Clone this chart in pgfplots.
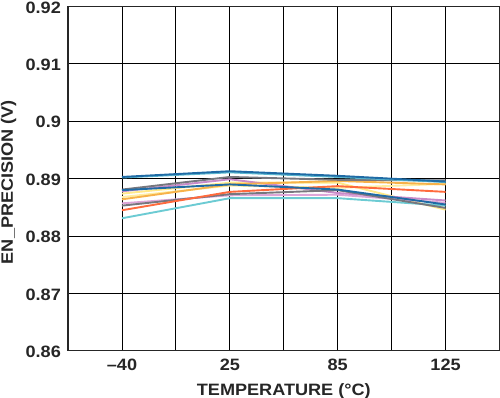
\documentclass[border=0pt]{standalone}
\usepackage{fontspec}
\setmainfont{Liberation Sans}[FakeStretch=1.1]
\usepackage{pgfplots}
\pgfplotsset{compat=1.18}
\definecolor{cdblue}{HTML}{1F6BA5}
\definecolor{cteal}{HTML}{5BB8D0}
\definecolor{cgray}{HTML}{77777E}
\definecolor{cpurple}{HTML}{C98BC9}
\definecolor{cpink}{HTML}{DDA6D8}
\definecolor{cly}{HTML}{FFE98A}
\definecolor{coy}{HTML}{F7B24A}
\definecolor{corange}{HTML}{FF6A3D}
\definecolor{ccyan}{HTML}{6CCBD3}
\begin{document}
\fontsize{16.5}{19}\selectfont\bfseries
\begin{tikzpicture}
\begin{axis}[
  scale only axis,
  width=431bp, height=344bp,
  xmin=0, xmax=8, ymin=0.86, ymax=0.92,
  xtick={1,3,5,7},
  xticklabels={\textendash40,25,85,125},
  minor xtick={0,2,4,6,8},
  ytick={0.86,0.87,0.88,0.89,0.9,0.91,0.92},
  yticklabels={0.86,0.87,0.88,0.89,0.9,0.91,0.92},
  grid=both,
  major grid style={black, line width=0.9bp},
  minor grid style={black, line width=0.9bp},
  major tick length=0pt, minor tick length=0pt,
  axis line style={black!85, line width=1.3bp},
  tick label style={font=\fontsize{16.5}{19}\selectfont\bfseries, text=black!85},
  yticklabel style={xshift=-1.5bp, yshift=-1bp},
  xticklabel style={yshift=-2.5bp},
  label style={font=\fontsize{16.5}{19}\selectfont\bfseries, text=black!85},
  xlabel={TEMPERATURE (°C)},
  ylabel={EN\_PRECISION (V)},
  xlabel style={at={(axis description cs:0.5,0)}, anchor=north, yshift=-27bp},
  ylabel style={at={(axis description cs:-0.138,0.49)}, anchor=center},
  every axis plot/.append style={line width=1.9bp, no markers},
  clip=false,
]
\addplot[cly] coordinates {(1,0.8874) (3,0.8893) (5,0.8893) (7,0.8846)};
\addplot[cly!80!white] coordinates {(1,0.8868) (3,0.8888) (5,0.8884) (7,0.8891)};
\addplot[ccyan] coordinates {(1,0.8831) (3,0.8866) (5,0.8866) (7,0.8853)};
\addplot[cpink] coordinates {(1,0.8857) (3,0.8871) (5,0.8872) (7,0.8858)};
\addplot[cpurple] coordinates {(1,0.8878) (3,0.8899) (5,0.8875) (7,0.8862)};
\addplot[cgray] coordinates {(1,0.8853) (3,0.8873) (5,0.8880) (7,0.8849)};
\addplot[coy] coordinates {(1,0.8864) (3,0.8890) (5,0.8896) (7,0.8890)};
\addplot[corange] coordinates {(1,0.8845) (3,0.8877) (5,0.8887) (7,0.8877)};
\addplot[cgray] coordinates {(1,0.8881) (3,0.8903) (5,0.8898) (7,0.8897)};
\addplot[cdblue] coordinates {(1,0.8880) (3,0.8890) (5,0.8881) (7,0.8855)};
\addplot[cteal] coordinates {(1,0.8902) (3,0.8911) (5,0.8903) (7,0.8894)};
\addplot[cdblue] coordinates {(1,0.8903) (3,0.8913) (5,0.8905) (7,0.8895)};
\end{axis}
\pgfresetboundingbox
\path (current axis.south west) ++(-68bp,-47bp) coordinate (bbA);
\path (current axis.north east) ++(0.5bp,6.5bp) coordinate (bbB);
\useasboundingbox (bbA) rectangle (bbB);
\end{tikzpicture}
\end{document}
